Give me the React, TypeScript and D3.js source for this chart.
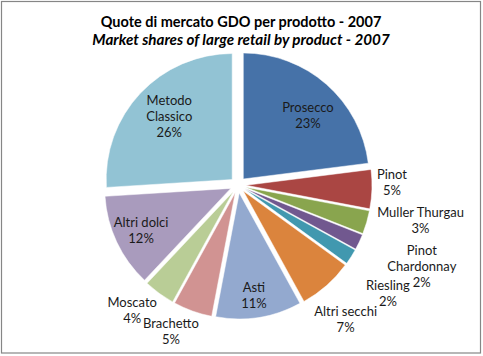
import React from "react";
import * as d3 from "d3";

const categories = [
  "Prosecco",
  "Pinot",
  "Muller Thurgau",
  "Pinot Chardonnay",
  "Riesling",
  "Altri secchi",
  "Asti",
  "Brachetto",
  "Moscato",
  "Altri dolci",
  "Metodo Classico",
];
const shares = [23, 5, 3, 2, 2, 7, 11, 5, 4, 12, 26];
const labelLines = [
  ["Prosecco"],
  ["Pinot"],
  ["Muller Thurgau"],
  ["Pinot", "Chardonnay"],
  ["Riesling"],
  ["Altri secchi"],
  ["Asti"],
  ["Brachetto"],
  ["Moscato"],
  ["Altri dolci"],
  ["Metodo", "Classico"],
];
const colors = [
  "#4672A8",
  "#AA4643",
  "#89A54E",
  "#71588F",
  "#4198AF",
  "#DB843D",
  "#93A9CF",
  "#D19392",
  "#B9CD96",
  "#A99BBD",
  "#92C3D4",
];
// label layout: [angle shift from bisector (deg), distance from slice apex (px)]
const labelLayout: [number, number][] = [
  [3.9, 91],
  [-3, 146],
  [-5.4, 178],
  [-1.4, 193],
  [3.6, 177],
  [2.8, 164],
  [0.9, 104],
  [5.1, 153],
  [4.4, 156],
  [0.2, 99],
  [1.8, 89],
];

const W = 483;
const H = 356;
const cx = 238;
const cy = 185;
const R = 126;
const explode = 8;
const lineH = 16;

export default function App() {
  const pie = d3.pie<number>().sort(null).value((d) => d);
  const arcs = pie(shares);
  const arc = d3.arc<d3.PieArcDatum<number>>().innerRadius(0).outerRadius(R);
  const total = d3.sum(shares);
  const fmt = d3.format(".0%");

  return (
    <svg
      width={W}
      height={H}
      style={{ position: "absolute", left: 0, top: 0, background: "#fff" }}
      fontFamily="Lato, 'Open Sans', sans-serif"
    >
      <rect x={0} y={0} width={W} height={H} fill="#fff" />
      <rect x={1.5} y={1.5} width={479} height={351.5} fill="none" stroke="#868686" strokeWidth={1.2} />
      <text x={241} y={27} textAnchor="middle" fontSize={14.5} fontWeight="bold" fill="#000">
        Quote di mercato GDO per prodotto - 2007
      </text>
      <text x={241} y={45} textAnchor="middle" fontSize={15.2} fontWeight="bold" fontStyle="italic" fill="#000">
        Market shares of large retail by product - 2007
      </text>
      <g transform={`translate(${cx},${cy})`}>
        {arcs.map((a, i) => {
          const mid = (a.startAngle + a.endAngle) / 2;
          const ox = explode * Math.sin(mid);
          const oy = -explode * Math.cos(mid);
          return (
            <path
              key={categories[i]}
              d={arc(a) || ""}
              transform={`translate(${ox},${oy})`}
              fill={colors[i]}
              stroke="#fff"
              strokeWidth={0.5}
            />
          );
        })}
        {arcs.map((a, i) => {
          const mid = (a.startAngle + a.endAngle) / 2;
          const ox = explode * Math.sin(mid);
          const oy = -explode * Math.cos(mid);
          const [dAng, dist] = labelLayout[i];
          const ang = mid + (dAng * Math.PI) / 180;
          const lx = ox + dist * Math.sin(ang);
          const ly = oy - dist * Math.cos(ang);
          const lines = [...labelLines[i], fmt(shares[i] / total)];
          const top = ly - ((lines.length - 1) * lineH) / 2;
          return (
            <text key={"l" + i} textAnchor="middle" fontSize={13} fill="#1a1a1a">
              {lines.map((t, j) => (
                <tspan key={j} x={lx} y={top + j * lineH + 4.5}>
                  {t}
                </tspan>
              ))}
            </text>
          );
        })}
      </g>
    </svg>
  );
}
